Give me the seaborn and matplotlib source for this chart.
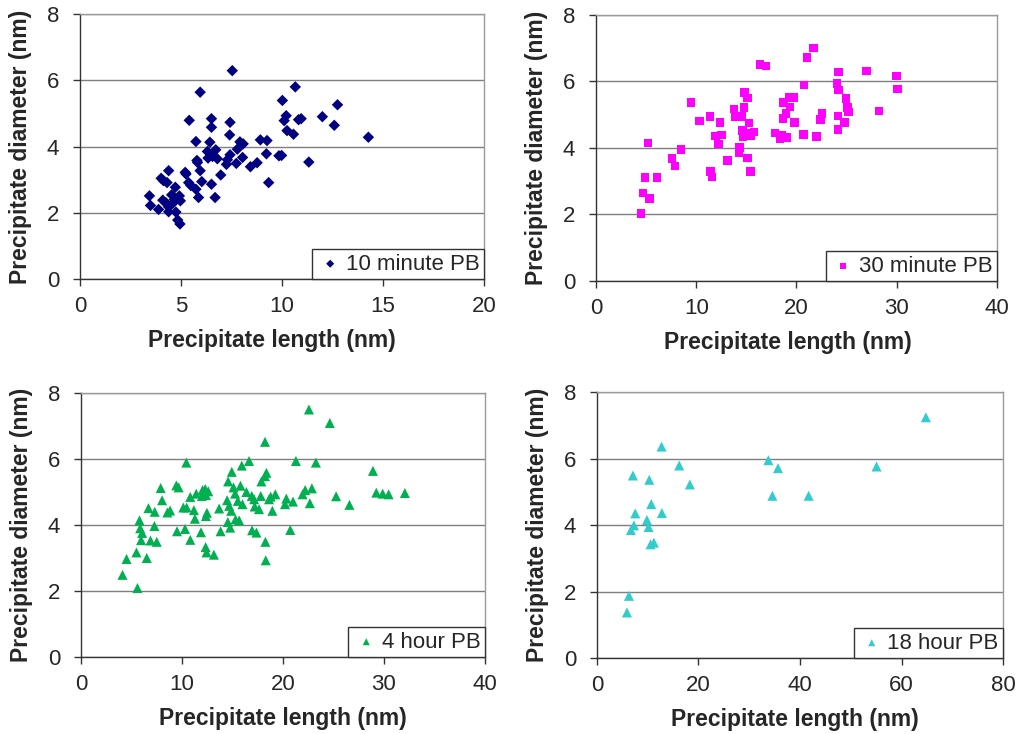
import numpy as np
import pandas as pd
import matplotlib
matplotlib.use("Agg")
import matplotlib.pyplot as plt
import seaborn as sns

# Precipitate length (nm) and diameter (nm) for each post-bake time
len_10min = [7.54, 5.95, 10.66, 10.02, 12.75, 5.41, 6.51, 6.51, 7.43, 7.41, 10.21, 10.11,
             10.82, 10.95, 12.0, 12.59, 10.25, 10.57, 14.28, 5.74, 6.43, 7.92, 8.08, 8.93,
             9.26, 7.79, 6.31, 6.72, 6.34, 6.56, 6.80, 7.43, 7.30, 7.25, 8.05, 7.74, 9.23,
             9.85, 9.98, 8.77, 8.44, 11.33, 5.79, 5.82, 5.95, 4.39, 4.02, 4.13, 4.31, 5.21,
             5.25, 5.38, 5.49, 5.74, 6.03, 6.51, 6.97, 9.34, 5.87, 6.69, 4.72, 3.44, 3.49,
             3.89, 4.10, 4.26, 4.38, 4.39, 4.54, 4.67, 4.92, 4.97, 4.75, 4.84, 4.95, 4.59]
dia_10min = [6.29, 5.64, 5.80, 5.39, 5.26, 4.79, 4.84, 4.58, 4.73, 4.35, 4.93, 4.78,
             4.81, 4.84, 4.90, 4.64, 4.48, 4.37, 4.28, 4.15, 4.13, 4.14, 4.08, 4.20,
             4.18, 3.92, 3.85, 3.90, 3.65, 3.70, 3.63, 3.75, 3.60, 3.46, 3.67, 3.49, 3.78,
             3.72, 3.73, 3.51, 3.39, 3.53, 3.58, 3.52, 3.27, 3.27, 3.04, 2.97, 2.91, 3.22,
             3.17, 2.91, 2.82, 2.71, 2.94, 2.86, 3.14, 2.91, 2.46, 2.46, 2.77, 2.51, 2.22,
             2.10, 2.38, 2.30, 2.18, 2.03, 2.54, 2.40, 2.51, 2.36, 2.02, 1.78, 1.66, 2.28]

len_30min = [4.5, 4.7, 5.33, 4.87, 6.07, 5.2, 7.57, 7.87, 8.5, 9.47, 10.33, 11.37, 12.37,
             11.43, 11.57, 11.93, 12.53, 12.2, 13.13, 13.77, 13.9, 14.77, 14.57, 14.83,
             15.13, 15.27, 14.33, 14.27, 15.1, 15.43, 14.6, 14.67, 15.0, 15.47, 15.77,
             16.37, 16.97, 17.87, 18.37, 18.57, 19.03, 18.67, 18.97, 18.73, 19.27, 19.7,
             19.37, 19.83, 20.7, 20.77, 21.07, 21.7, 22.0, 22.37, 22.53, 24.03, 24.17,
             24.2, 24.13, 24.13, 24.77, 24.93, 25.1, 25.2, 27.0, 28.23, 30.0, 30.1]
dia_30min = [2.03, 2.65, 2.48, 3.11, 3.12, 4.15, 3.68, 3.46, 3.95, 5.36, 4.81, 4.95, 4.76,
             3.29, 3.13, 4.36, 4.39, 4.12, 3.62, 5.17, 4.95, 5.21, 4.95, 5.67,
             5.50, 4.75, 4.02, 3.85, 3.70, 3.29, 4.53, 4.35, 4.43, 4.38, 4.48,
             6.51, 6.46, 4.45, 4.28, 4.38, 4.31, 4.88, 5.03, 5.36, 5.51, 5.51,
             5.23, 4.77, 4.40, 5.90, 6.72, 7.01, 4.35, 4.85, 5.03, 5.94, 5.75,
             6.29, 4.96, 4.56, 4.77, 5.48, 5.21, 5.08, 6.32, 5.11, 6.17, 5.78]

len_4hr = [22.57, 24.64, 18.22, 10.43, 16.64, 15.92, 14.93, 18.36, 18.22, 17.86, 21.28,
           23.26, 28.91, 14.57, 7.89, 9.44, 9.67, 11.41, 12.04, 12.30, 12.6, 11.97, 12.37,
           10.82, 15.1, 15.79, 15.26, 16.38, 16.91, 17.14, 17.8, 18.78, 19.24, 18.62,
           20.33, 20.99, 20.2, 21.94, 22.2, 22.86, 22.66, 25.26, 26.58, 29.24, 29.87,
           30.46, 32.07, 8.03, 6.68, 7.3, 8.55, 8.82, 10.13, 10.46, 11.18, 12.47, 12.37,
           13.68, 14.47, 14.67, 14.87, 15.99, 15.53, 17.2, 17.63, 18.95, 11.28, 5.79,
           7.27, 5.86, 6.05, 14.54, 15.3, 15.66, 14.77, 9.51, 10.3, 11.88, 13.82, 16.94,
           17.37, 20.72, 5.95, 6.88, 7.5, 10.82, 18.26, 12.34, 12.43, 13.16, 5.49, 4.51,
           6.51, 18.29, 4.11, 5.59]
dia_4hr = [7.50, 7.09, 6.52, 5.89, 5.94, 5.80, 5.61, 5.58, 5.48, 5.32, 5.94,
           5.89, 5.64, 5.32, 5.12, 5.20, 5.14, 4.95, 5.06, 5.09, 5.02, 4.88, 4.91,
           4.85, 5.14, 5.19, 4.95, 5.00, 4.88, 4.78, 4.88, 4.86, 4.93, 4.78,
           4.80, 4.71, 4.63, 4.93, 5.06, 5.11, 4.66, 4.87, 4.61, 4.98, 4.95,
           4.93, 4.97, 4.75, 4.51, 4.40, 4.38, 4.44, 4.53, 4.53, 4.45, 4.37, 4.27,
           4.50, 4.75, 4.58, 4.43, 4.63, 4.73, 4.56, 4.48, 4.43, 4.19, 4.14,
           3.97, 3.90, 3.76, 4.09, 4.17, 4.14, 3.92, 3.81, 3.88, 3.78, 3.81, 3.84,
           3.77, 3.85, 3.54, 3.53, 3.49, 3.55, 3.49, 3.33, 3.17, 3.10, 3.17, 2.97,
           3.00, 2.93, 2.49, 2.09]

len_18hr = [64.8, 12.72, 33.77, 35.67, 55.08, 16.2, 7.08, 10.3, 18.3, 34.56, 41.7,
            10.69, 7.54, 12.79, 9.84, 7.28, 6.69, 10.16, 10.56, 11.21, 6.3, 5.9]
dia_18hr = [7.24, 6.36, 5.95, 5.71, 5.76, 5.79, 5.49, 5.36, 5.22, 4.88, 4.88,
            4.63, 4.35, 4.36, 4.15, 3.99, 3.85, 3.94, 3.42, 3.47, 1.87, 1.37]

series_labels = ["10 minute PB", "30 minute PB", "4 hour PB", "18 hour PB"]
x_limits = [20, 40, 40, 80]
x_steps = [5, 10, 10, 20]

sns.set_style("white")
plt.rcParams["font.family"] = ["Liberation Sans", "DejaVu Sans"]

fig = plt.figure(figsize=(10.24, 7.34), dpi=100)

panels = [
    dict(rect=[0.0781, 0.6199, 0.3945, 0.3610], x=len_10min, y=dia_10min,
         marker="D", color="#000080", s=34, label_x=0.476),
    dict(rect=[0.5820, 0.6172, 0.3916, 0.3624], x=len_30min, y=dia_30min,
         marker="s", color="#FF00FF", s=38, label_x=0.478),
    dict(rect=[0.0791, 0.1049, 0.3945, 0.3597], x=len_4hr, y=dia_4hr,
         marker="^", color="#00B050", s=52, label_x=0.5),
    dict(rect=[0.5830, 0.1035, 0.3965, 0.3624], x=len_18hr, y=dia_18hr,
         marker="^", color="#33CCCC", s=52, label_x=0.488),
]

for i, p in enumerate(panels):
    ax = fig.add_axes(p["rect"])
    df = pd.DataFrame({"length": p["x"], "diameter": p["y"]})
    sns.scatterplot(data=df, x="length", y="diameter", ax=ax, marker=p["marker"],
                    color=p["color"], s=p["s"], edgecolor="none", linewidth=0,
                    label=series_labels[i], zorder=3)
    ax.set_xlim(0, x_limits[i])
    ax.set_ylim(0, 8)
    ax.set_xticks(np.arange(0, x_limits[i] + 1, x_steps[i]))
    ax.set_yticks([0, 2, 4, 6, 8])
    ax.grid(axis="y", color="#7f7f7f", linewidth=1.0, zorder=0)
    ax.grid(axis="x", visible=False)
    ax.set_axisbelow(True)
    for side in ["top", "right"]:
        ax.spines[side].set_color("#9a9a9a")
        ax.spines[side].set_linewidth(1.0)
    for side in ["left", "bottom"]:
        ax.spines[side].set_color("#333333")
        ax.spines[side].set_linewidth(1.0)
    ax.tick_params(axis="both", which="major", direction="out", length=5, width=1,
                   color="#333333", labelsize=16, bottom=True, left=True)
    ax.tick_params(axis="x", pad=7)
    ax.tick_params(axis="y", pad=10)
    ax.set_xlabel("Precipitate length (nm)", fontsize=16.5, fontweight="bold", labelpad=9)
    ax.xaxis.label.set_x(p["label_x"])
    ax.set_ylabel("Precipitate diameter (nm)", fontsize=16.5, fontweight="bold",
                  labelpad=10.5)
    leg = ax.legend(loc="lower right", borderaxespad=0, frameon=True, fancybox=False,
                    fontsize=16, handletextpad=0.1, borderpad=0.2, handlelength=1.2,
                    markerscale=0.7)
    leg.get_frame().set_edgecolor("#333333")
    leg.get_frame().set_linewidth(1.0)
    leg.get_frame().set_alpha(1)

fig.savefig("out.png", dpi=100)
